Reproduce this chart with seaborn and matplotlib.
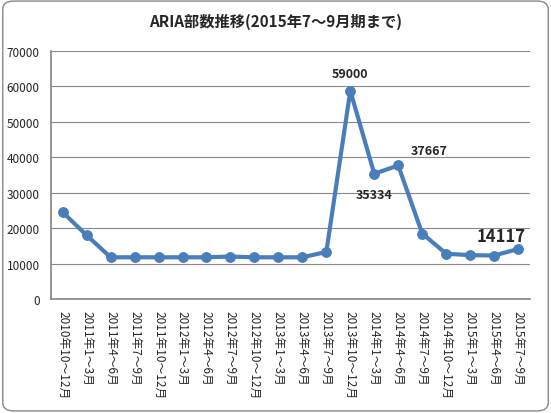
import matplotlib
matplotlib.use("Agg")
import matplotlib.pyplot as plt
import seaborn as sns
import pandas as pd

periods = ["2010年10～12月", "2011年1～3月", "2011年4～6月", "2011年7～9月", "2011年10～12月",
           "2012年1～3月", "2012年4～6月", "2012年7～9月", "2012年10～12月", "2013年1～3月",
           "2013年4～6月", "2013年7～9月", "2013年10～12月", "2014年1～3月", "2014年4～6月",
           "2014年7～9月", "2014年10～12月", "2015年1～3月", "2015年4～6月", "2015年7～9月"]
copies = [24500, 18000, 11800, 11800, 11800, 11800, 11800, 12000, 11800, 11800,
          11800, 13300, 58700, 35334, 37667, 18500, 12800, 12400, 12300, 14117]

sns.set_theme(style="white")
plt.rcParams['font.family'] = ['Noto Sans CJK JP', 'DejaVu Sans']

df = pd.DataFrame({"x": range(len(periods)), "y": copies})
fig = plt.figure(figsize=(5.51, 4.14), dpi=100)
ax = fig.add_axes([0.092, 0.275, 0.87, 0.6])
ax.yaxis.grid(True, color="#888888", linewidth=0.8)
ax.set_axisbelow(True)
sns.lineplot(data=df, x="x", y="y", ax=ax, color="#4a7ebb", linewidth=3,
             marker="o", markersize=7, markeredgecolor="#4a7ebb")
ax.set_ylim(0, 70000)
ax.set_yticks(range(0, 70001, 10000))
ax.set_xlim(-0.5, len(periods) - 0.5)
ax.set_xticks(range(len(periods)))
ax.set_xticklabels(periods, rotation=270, fontsize=8.5)
ax.tick_params(axis="y", labelsize=8.5, pad=2)
ax.tick_params(axis="x", pad=2)
ax.set_xlabel("")
ax.set_ylabel("")
for s in ["top", "right"]:
    ax.spines[s].set_visible(False)
for s in ["left", "bottom"]:
    ax.spines[s].set_color("#888888")

ax.text(12, 62500, "59000", ha="center", fontsize=9, fontweight="bold")
ax.text(13, 28500, "35334", ha="center", fontsize=9, fontweight="bold")
ax.text(14.5, 41000, "37667", ha="left", fontsize=9, fontweight="bold")
ax.text(18.3, 16500, "14117", ha="center", fontsize=12, fontweight="bold")

fig.text(0.5, 0.935, "ARIA部数推移(2015年7～9月期まで)", ha="center", fontsize=11, fontweight="bold")
fig.patches.append(matplotlib.patches.FancyBboxPatch((0.005, 0.005), 0.99, 0.99, boxstyle="round,pad=0,rounding_size=0.02",
                   transform=fig.transFigure, fill=False, edgecolor="#888888", linewidth=1))
fig.savefig("out.png", dpi=100)
